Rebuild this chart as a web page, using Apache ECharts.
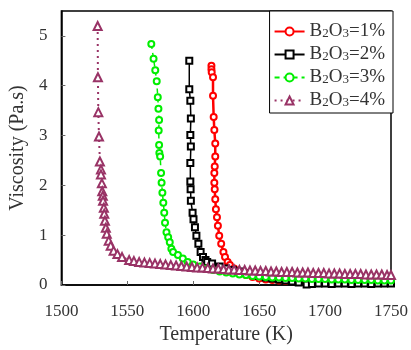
<!DOCTYPE html>
<html>
<head>
<meta charset="utf-8">
<script src="https://cdn.jsdelivr.net/npm/echarts@6/dist/echarts.min.js"></script>
<style>html,body{margin:0;padding:0;background:#fff}#c{width:411px;height:350px}</style>
</head>
<body>
<div id="c"></div>
<script>
// Series names
var names = ['B2O3=1%', 'B2O3=2%', 'B2O3=3%', 'B2O3=4%'];
var legendLabels = ['1%', '2%', '3%', '4%'];

// B2O3 = 1 %
var t1 = [1613.8,1613.8,1614.0,1615.0,1615.0,1615.5,1616.0,1616.7,1616.7,1616.3,1616.0,1616.0,1616.3,1616.7,1617.2,1618.0,1618.7,1619.7,1621.2,1622.9,1624.1,1626.1,1627.8,1631,1634,1637,1640,1645,1650,1655,1660,1665,1670,1675,1680,1685,1690,1695,1700,1705,1710,1715,1720,1725,1730,1735,1740,1745,1750];
var v1 = [4.40,4.33,4.27,4.17,3.80,3.37,3.11,2.84,2.58,2.38,2.25,2.05,1.92,1.72,1.52,1.36,1.19,0.99,0.83,0.66,0.56,0.46,0.40,0.33,0.28,0.24,0.20,0.16,0.13,0.11,0.10,0.09,0.08,0.08,0.07,0.08,0.07,0.07,0.07,0.06,0.07,0.07,0.08,0.07,0.07,0.06,0.07,0.07,0.07];

// B2O3 = 2 %
var t2 = [1597.0,1597.0,1597.8,1598.2,1597.8,1598.2,1597.8,1597.8,1598.0,1598.2,1599.5,1600.2,1601.3,1602.4,1603.9,1605.6,1607.4,1609.3,1610.6,1614.3,1620,1625,1630,1635,1640,1645,1650,1655,1660,1665,1670,1675,1680,1686,1690,1695,1700,1705,1710,1715,1720,1725,1730,1735,1740,1745,1750];
var v2 = [4.50,3.93,3.70,3.34,3.01,2.78,2.45,2.08,1.92,1.69,1.45,1.32,1.16,0.99,0.83,0.66,0.56,0.50,0.46,0.43,0.37,0.33,0.30,0.27,0.24,0.21,0.18,0.15,0.13,0.11,0.09,0.07,0.05,0.01,0.02,0.03,0.03,0.02,0.03,0.03,0.02,0.03,0.03,0.02,0.03,0.03,0.03];

// B2O3 = 3 %
var t3 = [1568.2,1569.9,1571.2,1572.3,1573.1,1573.6,1574.1,1573.8,1574.1,1574.3,1574.9,1575.6,1576.0,1576.6,1577.3,1578.0,1578.6,1579.7,1581.0,1582.2,1583.4,1584.7,1588.4,1592.1,1595.8,1600,1605,1610,1615,1620,1625,1630,1635,1640,1645,1650,1655,1660,1665,1670,1675,1680,1685,1690,1695,1700,1705,1710,1715,1720,1725,1730,1735,1740,1745,1750];
var v3 = [4.84,4.54,4.31,4.09,3.77,3.54,3.31,3.10,2.81,2.65,2.58,2.25,2.05,1.85,1.65,1.45,1.25,1.06,0.96,0.86,0.73,0.66,0.60,0.53,0.46,0.41,0.37,0.33,0.30,0.27,0.25,0.23,0.21,0.20,0.18,0.17,0.16,0.15,0.15,0.14,0.14,0.13,0.13,0.12,0.12,0.12,0.11,0.11,0.11,0.10,0.10,0.10,0.10,0.09,0.09,0.09];

// B2O3 = 4 %
var t4 = [1527.5,1527.7,1528.0,1528.5,1529.2,1530.0,1530.0,1530.7,1531.0,1531.4,1531.6,1532.2,1532.5,1533.0,1533.7,1534.4,1535.9,1537.4,1539.6,1542.5,1546.0,1551.4,1555,1559,1563,1567,1571,1575,1579,1583,1587,1591,1595,1599,1603,1607,1611,1615,1619,1623,1627,1631,1635,1639,1643,1647,1651,1655,1659,1663,1667,1671,1675,1679,1683,1687,1691,1695,1699,1703,1707,1711,1715,1719,1723,1727,1731,1735,1739,1743,1747,1750];
var v4 = [5.20,4.17,3.47,2.98,2.48,2.32,2.22,2.04,1.88,1.79,1.69,1.55,1.43,1.29,1.15,1.03,0.89,0.79,0.69,0.62,0.56,0.50,0.48,0.46,0.45,0.44,0.43,0.42,0.41,0.40,0.39,0.38,0.37,0.36,0.35,0.35,0.34,0.33,0.33,0.32,0.31,0.31,0.30,0.30,0.29,0.29,0.28,0.28,0.27,0.27,0.26,0.26,0.26,0.25,0.25,0.25,0.24,0.24,0.24,0.23,0.23,0.23,0.22,0.22,0.22,0.22,0.21,0.21,0.21,0.21,0.20,0.20];

// Axis ticks
var xTicks = [1500, 1550, 1600, 1650, 1700, 1750];
var yTicks = [0, 1, 2, 3, 4, 5];

function zip(t, v) { return t.map(function (x, i) { return [x, v[i]]; }); }

var FONT = 'Liberation Serif';
var TXT = '#333';

var chart = echarts.init(document.getElementById('c'), null, { renderer: 'canvas' });

function mk(name, t, v, color, symbol, size, lineType, width, z) {
  return {
    name: name, type: 'line', data: zip(t, v),
    symbol: symbol, symbolSize: size, showSymbol: true,
    lineStyle: { color: color, width: width, type: lineType },
    itemStyle: { color: color, borderColor: color, borderWidth: 1.5 },
    z: z, animation: false
  };
}

chart.setOption({
  animation: false,
  grid: { left: 55, right: 18, top: 11, bottom: 60, show: true, borderColor: '#000', borderWidth: 1.5, backgroundColor: 'transparent' },
  xAxis: {
    type: 'value', min: xTicks[0], max: xTicks[xTicks.length - 1], interval: 50,
    name: 'Temperature (K)', nameLocation: 'middle', nameGap: 40,
    nameTextStyle: { fontFamily: FONT, fontSize: 20, color: TXT },
    axisLine: { show: true, lineStyle: { color: '#000', width: 1.5 } },
    axisTick: { show: true, inside: true, length: 4, lineStyle: { color: '#666' } },
    axisLabel: { fontFamily: FONT, fontSize: 17, color: TXT, margin: 18,
      formatter: function (v) { return String(v); } },
    splitLine: { show: false }
  },
  yAxis: {
    type: 'value', min: yTicks[0], max: 5.5, interval: 1,
    name: 'Viscosity (Pa.s)', nameLocation: 'middle', nameGap: 31,
    nameTextStyle: { fontFamily: FONT, fontSize: 20, color: TXT },
    axisLine: { show: true, lineStyle: { color: '#000', width: 1.5 } },
    axisTick: { show: true, inside: true, length: 4, lineStyle: { color: '#666' } },
    axisLabel: { fontFamily: FONT, fontSize: 17, color: TXT, margin: 14, showMaxLabel: false,
      formatter: function (v) { return yTicks.indexOf(v) >= 0 ? String(v) : ''; } },
    splitLine: { show: false }
  },
  legend: {
    data: names, orient: 'vertical', right: 18, top: 11,
    padding: [11, 8, 3, 4], itemGap: 4, itemWidth: 30, itemHeight: 10,
    borderColor: '#000', borderWidth: 1, backgroundColor: '#fff',
    formatter: function (n) {
      var p = legendLabels[names.indexOf(n)];
      return '{a|B}{s|2}{a|O}{s|3}{a|=' + p + '}';
    },
    textStyle: {
      color: TXT, fontFamily: FONT, fontSize: 19,
      rich: {
        a: { fontFamily: FONT, fontSize: 19, color: TXT, lineHeight: 17 },
        s: { fontFamily: FONT, fontSize: 13, color: TXT, lineHeight: 14, verticalAlign: 'bottom', padding: [4, 0, 0, 0] }
      }
    }
  },
  series: [
    mk(names[0], t1, v1, '#ff0000', 'emptyCircle', 6, 'solid', 2.5, 2),
    mk(names[1], t2, v2, '#000000', 'emptyRect', 6, 'solid', 1.5, 3),
    mk(names[2], t3, v3, '#00ee00', 'emptyCircle', 6, [5, 4], 1.5, 4),
    mk(names[3], t4, v4, '#993366', 'emptyTriangle', 8, [2, 4], 2, 5)
  ]
});
</script>
</body>
</html>
